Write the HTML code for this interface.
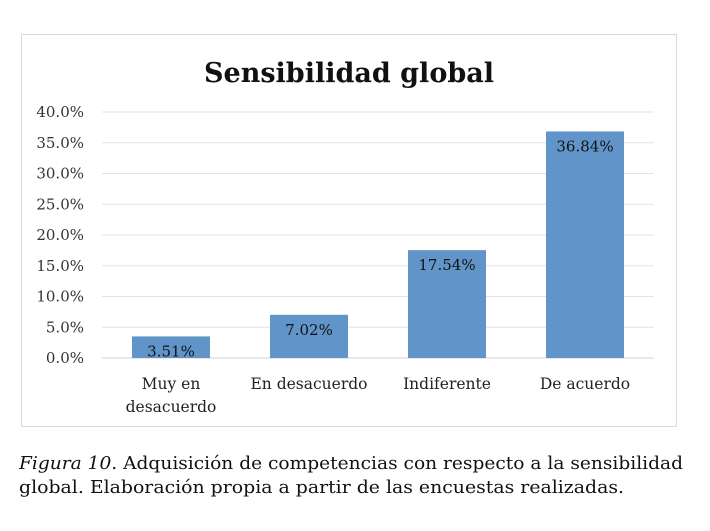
<!DOCTYPE html>
<html><head><meta charset="utf-8"><style>
body{margin:0;background:#fff;width:710px;height:531px;overflow:hidden;font-family:"DejaVu Serif",serif;}
</style></head><body>
<svg width="710" height="531" style="position:absolute;left:0;top:0" font-family="DejaVu Serif, serif">
<rect x="21.5" y="34.5" width="655" height="392" fill="#fff" stroke="#d9d9d9"/>
<text x="349" y="82" text-anchor="middle" font-size="27" font-weight="bold" fill="#111" textLength="290" lengthAdjust="spacingAndGlyphs">Sensibilidad global</text>
<g id="g"></g>
<g font-size="18" fill="#111">
<text x="19" y="469" textLength="664" lengthAdjust="spacingAndGlyphs"><tspan font-style="italic">Figura 10.</tspan> Adquisición de competencias con respecto a la sensibilidad</text>
<text x="19" y="493" textLength="605" lengthAdjust="spacingAndGlyphs">global. Elaboración propia a partir de las encuestas realizadas.</text>
</g>
</svg>
<script>
const categories=[["Muy en","desacuerdo"],["En desacuerdo"],["Indiferente"],["De acuerdo"]];
const values=[3.51,7.02,17.54,36.84];
const ticks=[0,5,10,15,20,25,30,35,40];
const x0=102,x1=654,y0=358,y1=112,ymax=40;
const ns="http://www.w3.org/2000/svg",g=document.getElementById('g');
const y=v=>y0-(y0-y1)*v/ymax;
const bw=(x1-x0)/categories.length;
function el(t,a,txt){const e=document.createElementNS(ns,t);for(const k in a)e.setAttribute(k,a[k]);if(txt!==undefined)e.textContent=txt;g.appendChild(e);return e;}
ticks.forEach(t=>{
const l=el('line',{x1:x0,x2:x1,y1:y(t),y2:y(t),stroke:t===0?'#d0d0d0':'#e3e3e3','stroke-width':1});


const tx=el('text',{x:84,y:y(t)+5,'text-anchor':'end','font-size':15,fill:'#333'},t.toFixed(1)+'%');


});
values.forEach((v,i)=>{
const cx=x0+bw*(i+0.5);
const r=el('rect',{x:cx-39,y:y(v),width:78,height:y0-y(v),fill:'#6194c9'});


const t=el('text',{x:cx,y:y(v)+20,'text-anchor':'middle','font-size':15,fill:'#111'},v.toFixed(2)+'%');


categories[i].forEach((s,j)=>{
const c=el('text',{x:cx,y:389+j*23,'text-anchor':'middle','font-size':15.5,fill:'#222'},s);


});
});
</script>
</body></html>
